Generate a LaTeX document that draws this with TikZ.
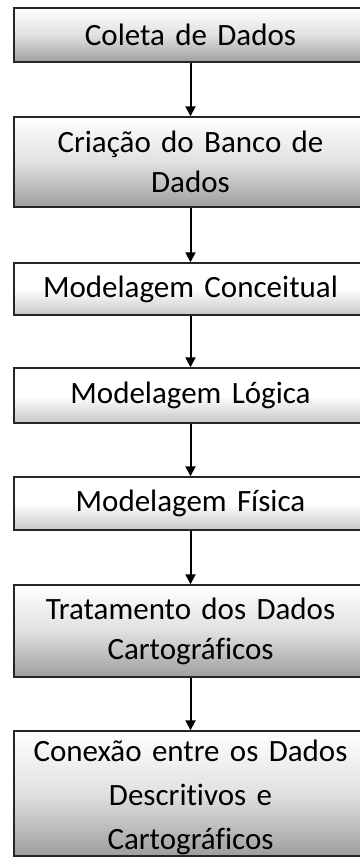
\documentclass[tikz,border=0pt]{standalone}
\usepackage{fontspec}
\setmainfont[Ligatures=NoCommon]{Carlito}
\usetikzlibrary{arrows.meta}
\tikzset{
  boxbase/.style={rectangle, draw=black!85, line width=1.4pt, minimum width=353pt,
    text width=340pt, align=center, inner sep=0pt,
    font=\fontsize{31}{40}\selectfont},
  darkbox/.style={boxbase, top color=white, bottom color=black!38, middle color=black!12},
  lightbox/.style={boxbase, top color=white, bottom color=black!22, middle color=white},
  flow/.style={draw=black, line width=2pt, -{Triangle[width=10pt,length=10pt]}}
}
\begin{document}
\begin{tikzpicture}[x=1pt,y=-1pt]
\useasboundingbox (0,0) rectangle (359,857);
\node[darkbox, minimum height=54pt] (b1) at (190.5,35) {Coleta de Dados};
\node[darkbox, minimum height=90pt] (b2) at (190.5,162) {Criação do Banco de\\Dados};
\node[lightbox, minimum height=52pt] (b3) at (190.5,289) {Modelagem Conceitual};
\node[lightbox, minimum height=55pt] (b4) at (190.5,395.5) {Modelagem Lógica};
\node[lightbox, minimum height=53pt] (b5) at (190.5,503.5) {Modelagem Física};
\node[darkbox, minimum height=92pt] (b6) at (190.5,631) {Tratamento dos Dados\\Cartográficos};
\node[darkbox, minimum height=125pt, font=\fontsize{31}{44}\selectfont] (b7) at (190.5,793.5) {\rule{0pt}{29pt}Conexão entre os Dados\\Descritivos e\\Cartográficos};
\draw[flow] (b1) -- (b2);
\draw[flow] (b2) -- (b3);
\draw[flow] (b3) -- (b4);
\draw[flow] (b4) -- (b5);
\draw[flow] (b5) -- (b6);
\draw[flow] (b6) -- (b7);
\end{tikzpicture}
\end{document}
